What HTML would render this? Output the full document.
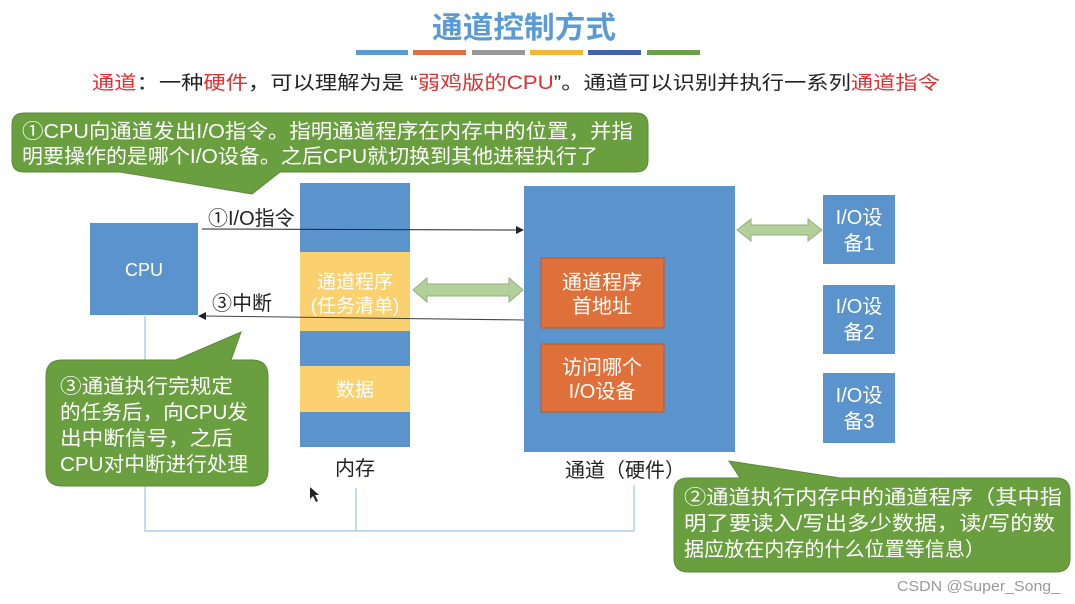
<!DOCTYPE html>
<html><head><meta charset="utf-8"><style>
html,body{margin:0;padding:0;background:#fff;}
svg{display:block;font-family:"Liberation Sans","Noto Sans CJK SC",sans-serif;}
</style></head><body>
<svg width="1075" height="604" viewBox="0 0 1075 604" xmlns="http://www.w3.org/2000/svg">
<text x="432" y="38" font-size="30" fill="#5b9bd5" font-weight="bold" textLength="184" lengthAdjust="spacingAndGlyphs">通道控制方式</text>
<rect x="356" y="50" width="52" height="5" fill="#5b9bd5"/>
<rect x="413" y="50" width="53" height="5" fill="#e07040"/>
<rect x="472" y="50" width="53" height="5" fill="#999"/>
<rect x="530" y="50" width="53" height="5" fill="#f2b733"/>
<rect x="588" y="50" width="53" height="5" fill="#3e62ad"/>
<rect x="647" y="50" width="53" height="5" fill="#6aa046"/>
<text x="92" y="89" font-size="19" fill="#222" textLength="848" lengthAdjust="spacingAndGlyphs"><tspan fill="#e03030">通道</tspan>：一种<tspan fill="#e03030">硬件</tspan>，可以理解为是 “<tspan fill="#e03030">弱鸡版的CPU</tspan>”。通道可以识别并执行一系列<tspan fill="#e03030">通道指令</tspan></text>

<path d="M145 316 V531 H634 V485 M356 531 V488" fill="none" stroke="#9dc3e6" stroke-width="1.2"/>

<path d="M24 113 H636 Q648 113 648 125 V160 Q648 172 636 172 H280 L252 194 L120 172 H24 Q12 172 12 160 V125 Q12 113 24 113 Z" fill="#6a9f40" stroke="#5a8a35"/>
<text x="22" y="138" font-size="20" fill="#fff" textLength="611" lengthAdjust="spacingAndGlyphs">①CPU向通道发出I/O指令。指明通道程序在内存中的位置，并指</text>
<text x="22" y="163" font-size="20" fill="#fff" textLength="576" lengthAdjust="spacingAndGlyphs">明要操作的是哪个I/O设备。之后CPU就切换到其他进程执行了</text>

<rect x="90" y="223" width="108" height="92" fill="#5b93cc"/>
<text x="144" y="276" text-anchor="middle" font-size="18" fill="#fff">CPU</text>

<rect x="300" y="183" width="110" height="264" fill="#5b93cc"/>
<rect x="300" y="252" width="110" height="79" fill="#fbd06e"/>
<rect x="300" y="366" width="110" height="46" fill="#fbd06e"/>
<text x="355" y="288" text-anchor="middle" font-size="19" fill="#fff">通道程序</text>
<text x="355" y="312" text-anchor="middle" font-size="19" fill="#fff">(任务清单)</text>
<text x="355" y="396" text-anchor="middle" font-size="19" fill="#fff">数据</text>
<text x="355" y="475" text-anchor="middle" font-size="20" fill="#222">内存</text>

<rect x="524" y="186" width="211" height="266" fill="#5b93cc"/>
<rect x="541" y="258" width="123" height="70" fill="#e0703a" stroke="#b55a2a"/>
<rect x="541" y="344" width="123" height="68" fill="#e0703a" stroke="#b55a2a"/>
<text x="602" y="289" text-anchor="middle" font-size="20" fill="#fff">通道程序</text>
<text x="602" y="313" text-anchor="middle" font-size="20" fill="#fff">首地址</text>
<text x="602" y="374" text-anchor="middle" font-size="20" fill="#fff">访问哪个</text>
<text x="602" y="398" text-anchor="middle" font-size="20" fill="#fff">I/O设备</text>
<text x="625" y="477" text-anchor="middle" font-size="20" fill="#222">通道（硬件）</text>

<rect x="823" y="195" width="72" height="69" fill="#5b93cc"/>
<rect x="823" y="285" width="72" height="69" fill="#5b93cc"/>
<rect x="823" y="373" width="72" height="70" fill="#5b93cc"/>
<g font-size="20" fill="#fff" text-anchor="middle">
<text x="859" y="224">I/O设</text><text x="859" y="250">备1</text>
<text x="859" y="313">I/O设</text><text x="859" y="339">备2</text>
<text x="859" y="402">I/O设</text><text x="859" y="428">备3</text>
</g>

<line x1="202" y1="229" x2="518" y2="230" stroke="#222" stroke-width="1"/>
<polygon points="524,230 516,226 516,234" fill="#222"/>
<text x="208" y="225" font-size="20" fill="#222">①I/O指令</text>
<line x1="524" y1="320" x2="204" y2="316" stroke="#444" stroke-width="1"/>
<polygon points="198,316 206,312 206,320" fill="#222"/>
<text x="212" y="310" font-size="20" fill="#222">③中断</text>

<path d="M413 290 L427 278 V284 H509 V278 L523 290 L509 302 V296 H427 V302 Z" fill="#b4d09a" stroke="#8fb07a"/>
<path d="M737 230 L751 219 V225 H808 V219 L822 230 L808 241 V235 H751 V241 Z" fill="#b4d09a" stroke="#8fb07a"/>

<path d="M62 360 H176 L241 332 L231 360 H252 Q268 360 268 376 V470 Q268 486 252 486 H62 Q46 486 46 470 V376 Q46 360 62 360 Z" fill="#6a9f40" stroke="#5a8a35"/>
<g font-size="20" fill="#fff">
<text x="60" y="393" textLength="173" lengthAdjust="spacingAndGlyphs">③通道执行完规定</text>
<text x="60" y="419" textLength="188" lengthAdjust="spacingAndGlyphs">的任务后，向CPU发</text>
<text x="60" y="445" textLength="173" lengthAdjust="spacingAndGlyphs">出中断信号，之后</text>
<text x="60" y="471" textLength="188" lengthAdjust="spacingAndGlyphs">CPU对中断进行处理</text>
</g>

<path d="M688 478 H740 L729 461 L840 478 H1056 Q1070 478 1070 492 V558 Q1070 572 1056 572 H688 Q674 572 674 558 V492 Q674 478 688 478 Z" fill="#6a9f40" stroke="#5a8a35"/>
<g font-size="20" fill="#fff">
<text x="684" y="504" textLength="378" lengthAdjust="spacingAndGlyphs">②通道执行内存中的通道程序（其中指</text>
<text x="684" y="530" textLength="371" lengthAdjust="spacingAndGlyphs">明了要读入/写出多少数据，读/写的数</text>
<text x="684" y="556" textLength="301" lengthAdjust="spacingAndGlyphs">据应放在内存的什么位置等信息）</text>
</g>

<text x="897" y="591" font-size="15" fill="#999" textLength="163" lengthAdjust="spacingAndGlyphs">CSDN @Super_Song_</text>
<polygon points="310,487 310,499 313,496 316,502 318,501 315,495 319,495" fill="#222"/>
</svg>
</body></html>
